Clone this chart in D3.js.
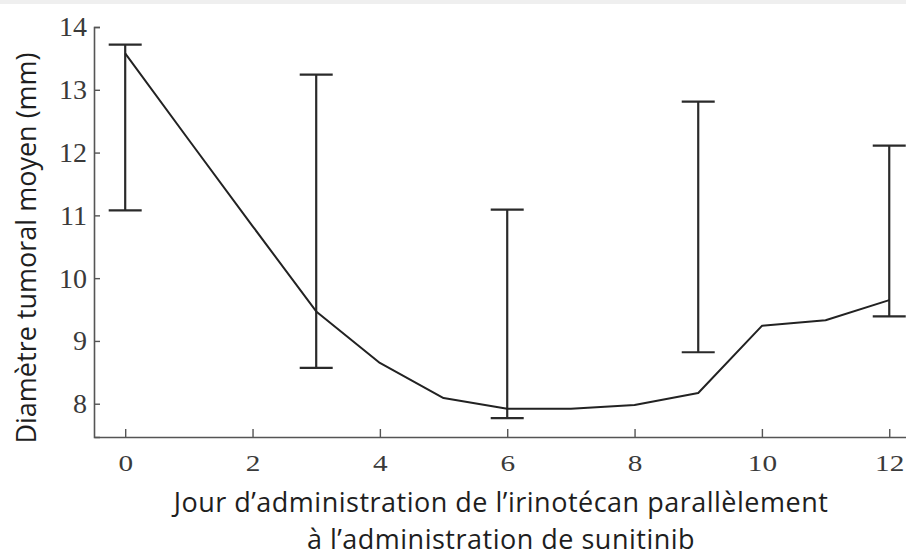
<!DOCTYPE html>
<html>
<head>
<meta charset="utf-8">
<script src="https://cdn.jsdelivr.net/npm/d3@7"></script>
<style>
  html, body { margin: 0; padding: 0; background: #fff; }
  svg { display: block; }
</style>
</head>
<body>
<svg id="chart" width="906" height="557"></svg>
<script>
// ---- data ----
const days = [0, 1, 2, 3, 4, 5, 6, 7, 8, 9, 10, 11, 12];
const meanDiameter = [13.58, 12.2, 10.83, 9.47, 8.65, 8.09, 7.92, 7.92, 7.98, 8.17, 9.24, 9.33, 9.65];
const errDays = [0, 3, 6, 9, 12];
const errUpper = [13.72, 13.24, 11.09, 12.81, 12.11];
const errLower = [11.08, 8.57, 7.77, 8.82, 9.39];
const xTicks = [0, 2, 4, 6, 8, 10, 12];
const yTicks = [8, 9, 10, 11, 12, 13, 14];
const yTitle = "Diamètre tumoral moyen (mm)";
const xTitleLines = ["Jour d’administration de l’irinotécan parallèlement", "à l’administration de sunitinib"];

// ---- layout ----
const svg = d3.select("#chart");
const W = 906, H = 557;
const x = d3.scaleLinear().domain([-0.49, 12.5]).range([94, 94 + 12.99 * 63.67]);
const y = d3.scaleLinear().domain([7.47, 14]).range([437, 27]);

// faint top band like the source
svg.append("rect").attr("x", 0).attr("y", 0).attr("width", W).attr("height", 4).attr("fill", "#efefef");

const axisColor = "#555";
const labelColor = "#3a3a3a";

// x axis
const gx = svg.append("g").attr("transform", `translate(0,${y(7.47)})`)
  .call(d3.axisBottom(x).tickValues(xTicks).tickSize(-8).tickSizeOuter(0).tickPadding(17).tickFormat(d3.format("d")));
gx.select(".domain").attr("stroke", axisColor).attr("stroke-width", 1.6);
gx.selectAll(".tick line").attr("stroke", axisColor).attr("stroke-width", 1.4);
gx.selectAll(".tick text")
  .attr("fill", labelColor)
  .style("font-family", "'Liberation Serif', 'Times New Roman', serif")
  .style("font-size", "24px")
  .attr("transform", "scale(1.22,1)");

// y axis
const gy = svg.append("g").attr("transform", `translate(${x(-0.49)},0)`)
  .call(d3.axisLeft(y).tickValues(yTicks).tickSize(-6).tickSizeOuter(-6).tickPadding(7).tickFormat(d3.format("d")));
gy.select(".domain").attr("stroke", axisColor).attr("stroke-width", 1.6);
gy.selectAll(".tick line").attr("stroke", axisColor).attr("stroke-width", 1.4);
gy.selectAll(".tick text")
  .attr("fill", labelColor)
  .style("font-family", "'Liberation Serif', 'Times New Roman', serif")
  .style("font-size", "28px");

// error bars
const capHalf = 16.5;
const eb = svg.append("g").attr("stroke", "#2a2a2a").attr("stroke-width", 2.2).attr("fill", "none");
errDays.forEach((d, i) => {
  eb.append("line").attr("x1", x(d)).attr("x2", x(d)).attr("y1", y(errUpper[i])).attr("y2", y(errLower[i]));
  eb.append("line").attr("x1", x(d) - capHalf).attr("x2", x(d) + capHalf).attr("y1", y(errUpper[i])).attr("y2", y(errUpper[i]));
  eb.append("line").attr("x1", x(d) - capHalf).attr("x2", x(d) + capHalf).attr("y1", y(errLower[i])).attr("y2", y(errLower[i]));
});

// mean line
const line = d3.line().x((d, i) => x(days[i])).y(d => y(d));
svg.append("path").datum(meanDiameter)
  .attr("d", line)
  .attr("fill", "none")
  .attr("stroke", "#222")
  .attr("stroke-width", 2)
  .attr("stroke-linejoin", "round");

// titles
const titleFont = "'Open Sans', 'Noto Sans', sans-serif";
svg.append("text")
  .attr("transform", `translate(36,248) rotate(-90)`)
  .attr("text-anchor", "middle")
  .attr("fill", "#1e1e1e")
  .style("font-family", titleFont)
  .style("font-size", "27px")
  .text(yTitle);

xTitleLines.forEach((t, i) => {
  svg.append("text")
    .attr("text-anchor", "middle")
    .attr("x", 501)
    .attr("y", 512 + i * 37)
    .attr("fill", "#1e1e1e")
    .style("font-family", titleFont)
    .style("font-size", "27px")
    .style("letter-spacing", "0.5px")
    .text(t);
});
</script>
</body>
</html>
